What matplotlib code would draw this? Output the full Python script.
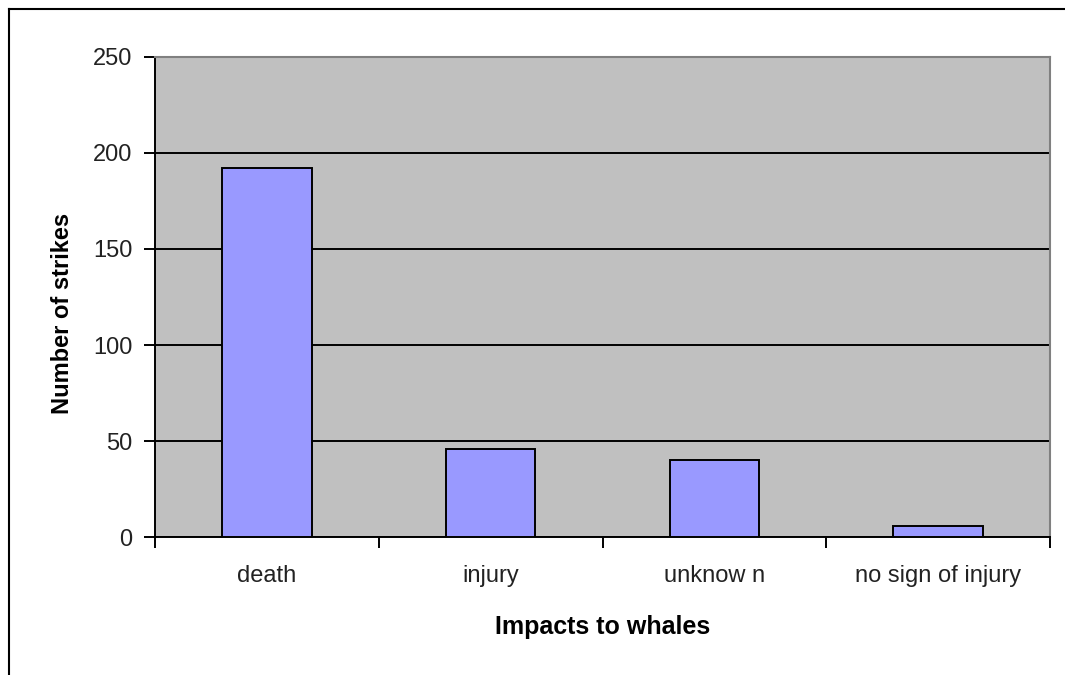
import matplotlib.pyplot as plt
from matplotlib.lines import Line2D

plt.rcParams['font.family'] = ['Liberation Sans', 'DejaVu Sans']

categories = ['death', 'injury', 'unknow n', 'no sign of injury']
strikes = [192, 46, 40, 6]

fig = plt.figure(figsize=(10.65, 6.75), dpi=100)
ax = fig.add_axes([0.1455, 0.2044, 0.8405, 0.7112])
ax.set_facecolor('#c0c0c0')

x = range(len(categories))
ax.bar(x, strikes, width=0.4, color='#9999ff', edgecolor='black', linewidth=1.4, zorder=3)

ax.set_xlim(-0.5, len(categories) - 0.5)
ax.set_ylim(0, 250)
ax.set_yticks([0, 50, 100, 150, 200, 250])
ax.yaxis.grid(True, color='black', linewidth=1.4, zorder=1)
ax.set_axisbelow(True)

# category labels at centres, tick marks at boundaries
ax.set_xticks([i + 0.5 for i in range(-1, len(categories))])
ax.set_xticklabels([])
ax.set_xticks(list(x), minor=True)
ax.set_xticklabels(categories, minor=True, fontsize=17, color='#222222')
ax.tick_params(axis='x', which='minor', length=0, pad=20)
ax.tick_params(axis='x', which='major', length=8, width=1.4, direction='out')
ax.tick_params(axis='y', length=8, width=1.4, labelsize=17, pad=8, labelcolor='#222222')

for s in ['top', 'right']:
    ax.spines[s].set_color('#808080')
    ax.spines[s].set_linewidth(1.5)
for s in ['left', 'bottom']:
    ax.spines[s].set_color('black')
    ax.spines[s].set_linewidth(1.4)

ax.set_xlabel('Impacts to whales', fontsize=18, fontweight='bold', labelpad=20)
ax.set_ylabel('Number of strikes', fontsize=17, fontweight='bold')
ax.yaxis.set_label_coords(-0.091, 0.465)

# outer chart border (top and left visible)
fig.add_artist(Line2D([9 / 1065, 1.0], [1 - 9 / 675, 1 - 9 / 675], color='black', linewidth=1.5))
fig.add_artist(Line2D([9 / 1065, 9 / 1065], [0, 1 - 9 / 675], color='black', linewidth=1.5))

plt.savefig('out.png', dpi=100)
